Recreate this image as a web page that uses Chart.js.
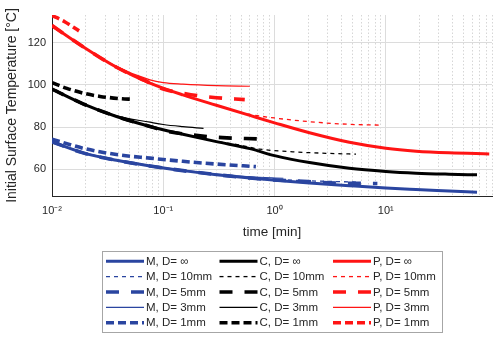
<!DOCTYPE html>
<html>
<head>
<meta charset="utf-8">
<script src="https://cdn.jsdelivr.net/npm/chart.js@4.4.0/dist/chart.umd.min.js"></script>
<style>
  html, body { margin: 0; padding: 0; background: #fff; }
</style>
</head>
<body>
<canvas id="grafico" width="500" height="339"></canvas>
<script>
// tick positions
const xTicks = [0.01, 0.02, 0.03, 0.04, 0.05, 0.06, 0.07, 0.08, 0.09,
                0.1, 0.2, 0.3, 0.4, 0.5, 0.6, 0.7, 0.8, 0.9,
                1, 2, 3, 4, 5, 6, 7, 8, 9,
                10, 20, 30, 40, 50, 60, 70, 80, 90];
const xLabels = { '-2': '10⁻²', '-1': '10⁻¹', '0': '10⁰', '1': '10¹' };
const yTicks = [60, 80, 100, 120];

// material M (blue)
const tM_inf = [0.01, 0.019, 0.038, 0.076, 0.15, 0.3, 0.6, 1, 2.06, 4.7, 10, 18.7, 37, 66];
const M_inf  = [73, 67.8, 64.3, 61.6, 59.4, 57.5, 55.9, 54.9, 53.6, 52.3, 51.2, 50.5, 49.8, 49.2];
const tM_10  = [0.01, 0.019, 0.038, 0.076, 0.15, 0.3, 0.6, 1, 2, 5.4];
const M_10   = [73, 67.8, 64.3, 61.6, 59.4, 57.6, 56.1, 55.3, 54.6, 54];
const tM_5   = [0.01, 0.019, 0.038, 0.076, 0.15, 0.3, 0.6, 1, 2, 3, 5, 8.4];
const M_5    = [73, 67.8, 64.3, 61.6, 59.4, 57.5, 55.9, 55, 54.2, 53.7, 53.4, 53.3];
const tM_3   = [0.01, 0.019, 0.038, 0.076, 0.15, 0.3, 0.6, 1.2];
const M_3    = [73.2, 68, 64.5, 61.8, 59.6, 57.8, 56.5, 55.8];
const tM_1   = [0.01, 0.019, 0.038, 0.076, 0.15, 0.3, 0.68];
const M_1    = [74.3, 70, 67, 65.3, 63.8, 62.5, 61.3];

// material C (black)
const tC_inf = [0.01, 0.019, 0.038, 0.076, 0.15, 0.3, 0.6, 1, 2.06, 4.7, 10, 18.7, 37, 66];
const C_inf  = [98, 91, 85, 80.3, 76.6, 73.1, 69.8, 66.5, 63.2, 60.5, 59, 58.2, 57.7, 57.4];
const tC_10  = [0.01, 0.019, 0.038, 0.076, 0.15, 0.3, 0.45, 0.73, 1.46, 2.9, 5.4];
const C_10   = [98, 91, 85, 80.3, 76.6, 73.2, 71.8, 69.6, 68.3, 67.6, 67.2];
const tC_5   = [0.01, 0.019, 0.038, 0.076, 0.1, 0.18, 0.34, 0.7];
const C_5    = [98, 91, 85, 80.3, 78.4, 76.3, 75, 74.4];
const tC_3   = [0.01, 0.019, 0.038, 0.076, 0.1, 0.15, 0.23];
const C_3    = [98, 91, 85.3, 82.3, 81.2, 80.2, 79.4];
const tC_1   = [0.01, 0.0136, 0.02, 0.027, 0.04, 0.054];
const C_1    = [101, 98.3, 95.8, 94.5, 93.5, 93.1];

// material P (red)
const tP_inf = [0.01, 0.019, 0.038, 0.076, 0.15, 0.3, 0.6, 1, 2.06, 4.7, 10, 18.7, 37, 85];
const P_inf  = [128, 118, 108.3, 100.8, 95.2, 90.3, 85.5, 82, 77.3, 72.8, 70, 68.6, 67.8, 67.3];
const tP_10  = [0.01, 0.019, 0.038, 0.076, 0.15, 0.3, 0.45, 0.6, 1, 2, 4.7, 9.3];
const P_10   = [128, 118, 108.3, 100.8, 95.2, 90.3, 87.6, 86, 84.3, 82.6, 81.3, 80.9];
const tP_5   = [0.01, 0.019, 0.038, 0.076, 0.1, 0.15, 0.2, 0.3, 0.54];
const P_5    = [128, 118, 108.3, 100.9, 98, 96, 94.9, 93.9, 93];
const tP_3   = [0.01, 0.019, 0.038, 0.076, 0.1, 0.15, 0.3, 0.6];
const P_3    = [127.6, 118, 108.6, 102.3, 101, 100.3, 99.6, 99.3];
const tP_1   = [0.01, 0.013, 0.0175];
const P_1    = [132.8, 129.8, 125.5];

const AZUL = '#2a45a0';
const PRETO = '#000000';
const VERMELHO = '#ff1414';
const FONTE = "'Liberation Sans', Arial, sans-serif";

// line style per diameter
const estilos = {
  inf: { width: 3,   dash: [] },
  d10: { width: 1.3, dash: [4, 4] },
  d5:  { width: 3.6, dash: [13, 12] },
  d3:  { width: 1.2, dash: [] },
  d1:  { width: 3.6, dash: [8, 4] }
};

function pontos(ts, vals) {
  return ts.map((t, i) => ({ x: t, y: vals[i] }));
}

function serie(label, ts, vals, cor, estilo) {
  return {
    label: label,
    data: pontos(ts, vals),
    borderColor: cor,
    backgroundColor: cor,
    borderWidth: estilo.width,
    borderDash: estilo.dash,
    pointRadius: 0,
    fill: false,
    cubicInterpolationMode: 'monotone'
  };
}

const datasets = [
  serie('M, D= ∞',    tM_inf, M_inf, AZUL, estilos.inf),
  serie('M, D= 10mm', tM_10,  M_10,  AZUL, estilos.d10),
  serie('M, D= 5mm',  tM_5,   M_5,   AZUL, estilos.d5),
  serie('M, D= 3mm',  tM_3,   M_3,   AZUL, estilos.d3),
  serie('M, D= 1mm',  tM_1,   M_1,   AZUL, estilos.d1),
  serie('C, D= ∞',    tC_inf, C_inf, PRETO, estilos.inf),
  serie('C, D= 10mm', tC_10,  C_10,  PRETO, estilos.d10),
  serie('C, D= 5mm',  tC_5,   C_5,   PRETO, estilos.d5),
  serie('C, D= 3mm',  tC_3,   C_3,   PRETO, estilos.d3),
  serie('C, D= 1mm',  tC_1,   C_1,   PRETO, estilos.d1),
  serie('P, D= ∞',    tP_inf, P_inf, VERMELHO, estilos.inf),
  serie('P, D= 10mm', tP_10,  P_10,  VERMELHO, estilos.d10),
  serie('P, D= 5mm',  tP_5,   P_5,   VERMELHO, estilos.d5),
  serie('P, D= 3mm',  tP_3,   P_3,   VERMELHO, estilos.d3),
  serie('P, D= 1mm',  tP_1,   P_1,   VERMELHO, estilos.d1)
];

function ehDecada(v) {
  const l = Math.log10(v);
  return Math.abs(l - Math.round(l)) < 1e-9;
}

// boxed legend below the axis, 3 columns x 5 rows
const legendaCaixa = {
  id: 'legendaCaixa',
  afterDraw(chart) {
    const ctx = chart.ctx;
    const area = chart.chartArea;
    const w = 340, h = 81;
    const left = Math.round((area.left + area.right) / 2 - w / 2) + 0.5;
    const top = Math.round(area.bottom + 55) + 0.5;

    ctx.save();
    ctx.fillStyle = '#ffffff';
    ctx.fillRect(left, top, w, h);
    ctx.strokeStyle = '#a6a6a6';
    ctx.lineWidth = 1;
    ctx.setLineDash([]);
    ctx.strokeRect(left, top, w, h);

    ctx.font = '11.5px ' + FONTE;
    ctx.textBaseline = 'middle';
    ctx.textAlign = 'left';

    chart.data.datasets.forEach((ds, i) => {
      const col = Math.floor(i / 5);
      const row = i % 5;
      const x0 = left + 3.5 + col * 113.5;
      const y = top + 9.7 + row * 15.4;
      ctx.strokeStyle = ds.borderColor;
      ctx.lineWidth = ds.borderWidth;
      ctx.setLineDash(ds.borderDash);
      ctx.beginPath();
      ctx.moveTo(x0, y);
      ctx.lineTo(x0 + 38, y);
      ctx.stroke();
      ctx.setLineDash([]);
      ctx.fillStyle = '#262626';
      ctx.fillText(ds.label, x0 + 40, y + 0.5);
    });
    ctx.restore();
  }
};

const grafico = new Chart(document.getElementById('grafico').getContext('2d'), {
  type: 'line',
  data: { datasets: datasets },
  plugins: [legendaCaixa],
  options: {
    responsive: false,
    animation: false,
    devicePixelRatio: 1,
    layout: { padding: { top: 15, right: 7, bottom: 95, left: 0 } },
    plugins: {
      legend: { display: false },
      tooltip: { enabled: false }
    },
    scales: {
      x: {
        type: 'logarithmic',
        min: 0.01,
        max: 90,
        afterBuildTicks: (scale) => {
          scale.ticks = xTicks.map(v => ({ value: v }));
        },
        afterFit: (scale) => { scale.height = 48; },
        ticks: {
          autoSkip: false,
          maxRotation: 0,
          padding: 8,
          color: '#262626',
          font: { family: FONTE, size: 11 },
          callback: (value) => {
            if (!ehDecada(value)) return '';
            return xLabels[String(Math.round(Math.log10(value)))] || '';
          }
        },
        grid: {
          drawTicks: false,
          lineWidth: 1,
          color: (c) => (c.tick && ehDecada(c.tick.value)) ? '#dcdcdc' : '#d6d6d6'
        },
        border: {
          display: true,
          color: '#262626',
          width: 1,
          dash: (c) => (c.tick && !ehDecada(c.tick.value)) ? [1.5, 2] : []
        },
        title: {
          display: true,
          text: 'time [min]',
          color: '#262626',
          font: { family: FONTE, size: 13.5 },
          padding: { top: 0, bottom: 4 }
        }
      },
      y: {
        type: 'linear',
        min: 47.4,
        max: 133,
        afterBuildTicks: (scale) => {
          scale.ticks = yTicks.map(v => ({ value: v }));
        },
        afterFit: (scale) => { scale.width = 52; },
        ticks: {
          padding: 6,
          color: '#262626',
          font: { family: FONTE, size: 11 }
        },
        grid: {
          drawTicks: false,
          color: '#dcdcdc',
          lineWidth: 1
        },
        border: { display: true, color: '#262626', width: 1 },
        title: {
          display: true,
          text: 'Initial Surface Temperature [°C]',
          color: '#262626',
          font: { family: FONTE, size: 14 },
          padding: { top: 4, bottom: 0 }
        }
      }
    }
  }
});
</script>
</body>
</html>
